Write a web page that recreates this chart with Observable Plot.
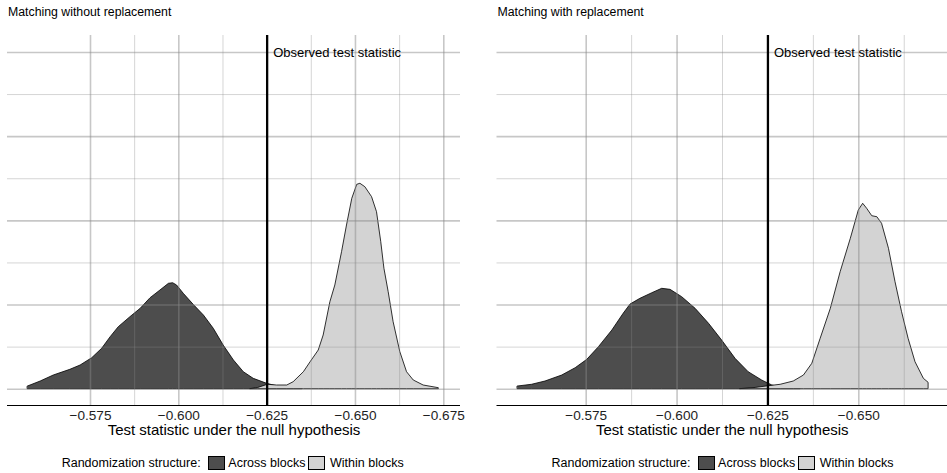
<!DOCTYPE html>
<html><head><meta charset="utf-8">
<script src="https://cdn.jsdelivr.net/npm/d3@7"></script>
<script src="https://cdn.jsdelivr.net/npm/@observablehq/plot@0.6"></script>
<style>
body{margin:0;background:#fff;font-family:"Liberation Sans",Arial,sans-serif;}
#root{position:relative;width:947px;height:473px;overflow:hidden;}
.panel{position:absolute;top:0;height:473px;}
.panel svg{position:absolute;left:0;top:0;overflow:visible;}
.title{position:absolute;top:5.9px;font-size:12.3px;line-height:1;color:#000;white-space:nowrap;}
.lg{position:absolute;top:456.7px;font-size:12.5px;line-height:1;color:#000;white-space:nowrap;}
.key{position:absolute;top:455.8px;width:15.1px;height:12.4px;border:0.8px solid #000;}
</style></head><body><div id="root"></div>
<script>
// ---- text ----
const panelTitles = ["Matching without replacement", "Matching with replacement"];
const legendTitle = "Randomization structure:";
const groups = ["Across blocks", "Within blocks"];
const observedLabel = "Observed test statistic";
const xTitle = "Test statistic under the null hypothesis";
// ---- values ----
const observed = -0.625;
const annotY = 80;
const xTicks = [-0.575, -0.6, -0.625, -0.65, -0.675];
const xMinor = [-0.5875, -0.6125, -0.6375, -0.6625];
const yMajor = [0, 20, 40, 60, 80];
const yMinor = [10, 30, 50, 70];

// Left panel: matching without replacement
const leftAcrossX = [-0.5573,-0.5609,-0.5646,-0.5693,-0.5722,-0.5755,-0.5783,-0.5807,-0.5830,-0.5863,-0.5892,-0.5920,-0.5948,-0.5972,-0.5984,-0.5995,-0.6014,-0.6042,-0.6071,-0.6099,-0.6127,-0.6156,-0.6184,-0.6212,-0.6250,-0.6288,-0.6330,-0.6350];
const leftAcrossY = [0.64,1.83,3.25,4.61,5.63,7.37,9.60,12.35,14.73,17.11,19.10,21.62,23.45,25.04,25.18,24.64,22.67,20.05,17.51,14.35,10.38,6.82,4.04,2.47,1.28,0.45,0.12,0.05];
const leftWithinX = [-0.6203,-0.6225,-0.6252,-0.6278,-0.6307,-0.6325,-0.6354,-0.6373,-0.6396,-0.6410,-0.6429,-0.6443,-0.6462,-0.6476,-0.6491,-0.6505,-0.6514,-0.6528,-0.6547,-0.6561,-0.6573,-0.6582,-0.6594,-0.6608,-0.6627,-0.6646,-0.6665,-0.6693,-0.6736];
const leftWithinY = [0.02,0.3,1.05,0.88,0.88,1.66,4.04,6.41,9.19,12.76,20.67,24.64,32.55,38.89,45.24,48.56,48.80,47.99,45.62,42.05,34.93,28.61,23.05,15.92,8.79,4.04,2.07,0.88,0.24];
// Right panel: matching with replacement
const rightAcrossX = [-0.5562,-0.5601,-0.5638,-0.5684,-0.5721,-0.5753,-0.5785,-0.5822,-0.5853,-0.5872,-0.5899,-0.5932,-0.5959,-0.5982,-0.6014,-0.6051,-0.6088,-0.6124,-0.6161,-0.6197,-0.6234,-0.6262,-0.6298,-0.6340];
const rightAcrossY = [0.64,1.05,1.83,3.25,4.99,6.98,9.98,13.95,17.91,20.12,21.47,22.81,23.85,23.61,21.86,19.10,15.53,11.56,7.21,4.04,2.07,0.88,0.2,0.05];
const rightWithinX = [-0.6174,-0.6216,-0.6252,-0.6285,-0.6321,-0.6349,-0.6372,-0.6395,-0.6423,-0.6450,-0.6478,-0.6500,-0.6512,-0.6523,-0.6537,-0.6551,-0.6564,-0.6583,-0.6601,-0.6619,-0.6637,-0.6656,-0.6679,-0.6692];
const rightWithinY = [0.02,0.3,0.71,1.05,1.83,3.25,6.03,11.97,19.10,27.80,35.73,42.46,44.05,42.86,41.10,40.86,39.30,33.36,25.42,18.29,11.97,6.41,2.47,1.52];

const zip = (xs, ys) => xs.map((x, i) => ({x, y: ys[i]}));
const colors = {"Across blocks": "#4d4d4d", "Within blocks": "#d3d3d3"};
const yDomain = [-3.87, 84.03];

const panels = [
  {title: panelTitles[0], across: zip(leftAcrossX, leftAcrossY), within: zip(leftWithinX, leftWithinY),
   left: 0, width: 473, ml: 7, mr: 13, xDomain: [-0.55151, -0.67973], legendX: 61.7},
  {title: panelTitles[1], across: zip(rightAcrossX, rightAcrossY), within: zip(rightWithinX, rightWithinY),
   left: 473, width: 474, ml: 23.5, mr: 0, xDomain: [-0.55046, -0.67440], legendX: 551.5}
];

const root = document.getElementById("root");
const gridStroke = "#898989";

for (const p of panels) {
  const lo = Math.min(...p.xDomain), hi = Math.max(...p.xDomain);
  const ticks = xTicks.filter(t => t >= lo && t <= hi);
  const minor = xMinor.filter(t => t >= lo && t <= hi);
  const svg = Plot.plot({
    width: p.width, height: 445,
    marginTop: 35, marginBottom: 40, marginLeft: p.ml, marginRight: p.mr,
    style: {fontFamily: "Liberation Sans, Arial, sans-serif", fontSize: "13.6px", background: "transparent", color: "#1e1e1e", overflow: "visible"},
    x: {domain: p.xDomain},
    y: {domain: yDomain, axis: null},
    marks: [
      Plot.areaY(p.across, {x: "x", y: "y", fill: colors[groups[0]], stroke: "#000", strokeWidth: 0.8}),
      Plot.areaY(p.within, {x: "x", y: "y", fill: colors[groups[1]], stroke: "#000", strokeWidth: 0.8}),
      Plot.ruleX(minor, {stroke: gridStroke, strokeOpacity: 0.4, strokeWidth: 0.9}),
      Plot.ruleX(ticks, {stroke: gridStroke, strokeOpacity: 0.47, strokeWidth: 1.6}),
      Plot.ruleY(yMinor, {stroke: gridStroke, strokeOpacity: 0.4, strokeWidth: 0.9}),
      Plot.ruleY(yMajor, {stroke: gridStroke, strokeOpacity: 0.47, strokeWidth: 1.6}),
      Plot.ruleX([observed], {stroke: "#000", strokeWidth: 2.3}),
      Plot.text([observedLabel], {x: observed, y: annotY, text: d => d, textAnchor: "start", lineAnchor: "middle", dx: 6, fontSize: 13, fill: "#000"}),
      Plot.ruleY([yDomain[0]], {stroke: "#000", strokeWidth: 1.1}),
      Plot.axisX({ticks, tickSize: 0, tickPadding: 5, tickFormat: d3.format(".3f"), fontSize: 13.6, label: null}),
      Plot.text([xTitle], {frameAnchor: "bottom", text: d => d, lineAnchor: "middle", dy: 25, fontSize: 15, fill: "#000"})
    ]
  });
  const div = document.createElement("div");
  div.className = "panel";
  div.style.left = p.left + "px";
  div.style.width = p.width + "px";
  div.appendChild(svg);
  const t = document.createElement("div");
  t.className = "title";
  t.style.left = (p.ml + 1) + "px";
  t.textContent = p.title;
  div.appendChild(t);
  root.appendChild(div);

  // legend (page coordinates)
  const lx = p.legendX;
  const items = [
    {cls: "lg", x: lx, text: legendTitle},
    {cls: "key", x: lx + 146.6, fill: colors[groups[0]]},
    {cls: "lg", x: lx + 166.6, text: groups[0]},
    {cls: "key", x: lx + 246.6, fill: colors[groups[1]]},
    {cls: "lg", x: lx + 268.3, text: groups[1]}
  ];
  for (const it of items) {
    const e = document.createElement("div");
    e.className = it.cls;
    e.style.left = it.x + "px";
    if (it.text) e.textContent = it.text;
    if (it.fill) e.style.background = it.fill;
    root.appendChild(e);
  }
}
</script></body></html>
